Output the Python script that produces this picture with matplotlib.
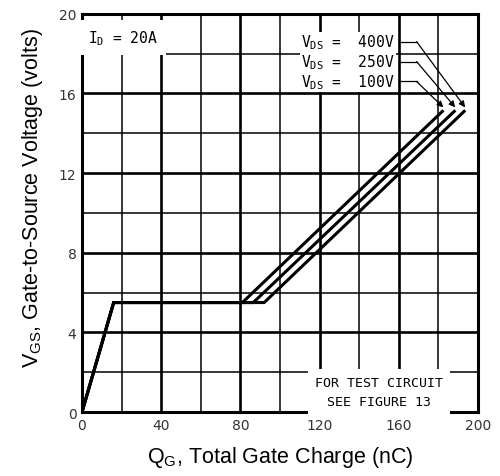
import matplotlib
matplotlib.use('Agg')
import matplotlib.pyplot as plt

plt.rcParams['mathtext.fontset'] = 'custom'
plt.rcParams['mathtext.rm'] = 'DejaVu Sans Mono'
plt.rcParams['mathtext.sf'] = 'Liberation Sans'

# Gate charge curves: (QG, VGS) corner points for each VDS
vds_labels = ['100V', '250V', '400V']
qg_100 = [0, 16, 81, 182]
qg_250 = [0, 16, 86.5, 188]
qg_400 = [0, 16, 92, 193]
vgs = [0, 5.5, 5.5, 15.1]
curves = [qg_100, qg_250, qg_400]

# label heights for the VDS callouts (volts on the y scale)
label_y = [16.6, 17.6, 18.6]

x_ticks = [0, 40, 80, 120, 160, 200]
y_ticks = [0, 4, 8, 12, 16, 20]

fig = plt.figure(figsize=(5, 4.77), dpi=100)
ax = fig.add_axes([0.164, 0.134, 0.792, 0.835])
ax.set_xlim(0, 200)
ax.set_ylim(0, 20)

# grid: heavy lines on the labelled ticks, light ones half way
for x in range(20, 200, 20):
    lw = 1.9 if x % 40 == 0 else 1.1
    ax.axvline(x, color='black', lw=lw, zorder=1)
for y in range(2, 20, 2):
    lw = 1.9 if y % 4 == 0 else 1.1
    ax.axhline(y, color='black', lw=lw, zorder=1)

for qg in curves:
    ax.plot(qg, vgs, color='black', lw=2.2, zorder=3, solid_joinstyle='miter')

# text boxes
ax.text(3, 18.8, r'I$_\mathrm{D}$ = 20A', family='DejaVu Sans Mono', fontsize=10.5,
        va='center', ha='left', zorder=4,
        bbox=dict(facecolor='white', edgecolor='none', pad=6))
ax.text(150, 1.0, 'FOR TEST CIRCUIT\nSEE FIGURE 13', family='DejaVu Sans Mono',
        fontsize=9.5, va='center', ha='center', linespacing=1.6, zorder=4,
        bbox=dict(facecolor='white', edgecolor='none', pad=5))

for lab, qg, ly in zip(vds_labels, curves, label_y):
    ax.text(158, ly, r'V$_\mathrm{DS}$ =  ' + lab, family='DejaVu Sans Mono',
            fontsize=10.5, va='center', ha='right', zorder=4,
            bbox=dict(facecolor='white', edgecolor='none', pad=0.5))
    ax.plot([160, 169], [ly, ly], color='black', lw=0.9, zorder=4)
    ax.annotate('', xy=(qg[-1] + 0.5, vgs[-1] + 0.2), xytext=(169, ly),
                arrowprops=dict(arrowstyle='-|>', color='black', lw=0.9,
                                mutation_scale=9, shrinkA=0, shrinkB=0),
                zorder=4)

ax.set_xticks(x_ticks)
ax.set_yticks(y_ticks)
ax.tick_params(length=0, labelsize=10, labelcolor='#333333', pad=4)
for s in ax.spines.values():
    s.set_linewidth(2.2)

ax.set_xlabel(r'Q$_\mathsf{G}$, Total Gate Charge (nC)', fontsize=15.5,
              family='Liberation Sans')
ax.set_ylabel(r'V$_\mathsf{GS}$, Gate-to-Source Voltage (volts)', fontsize=15.5,
              family='Liberation Sans')
ax.xaxis.set_label_coords(0.5, -0.08)
ax.yaxis.set_label_coords(-0.093, 0.54)

fig.savefig('out.png', dpi=100)
